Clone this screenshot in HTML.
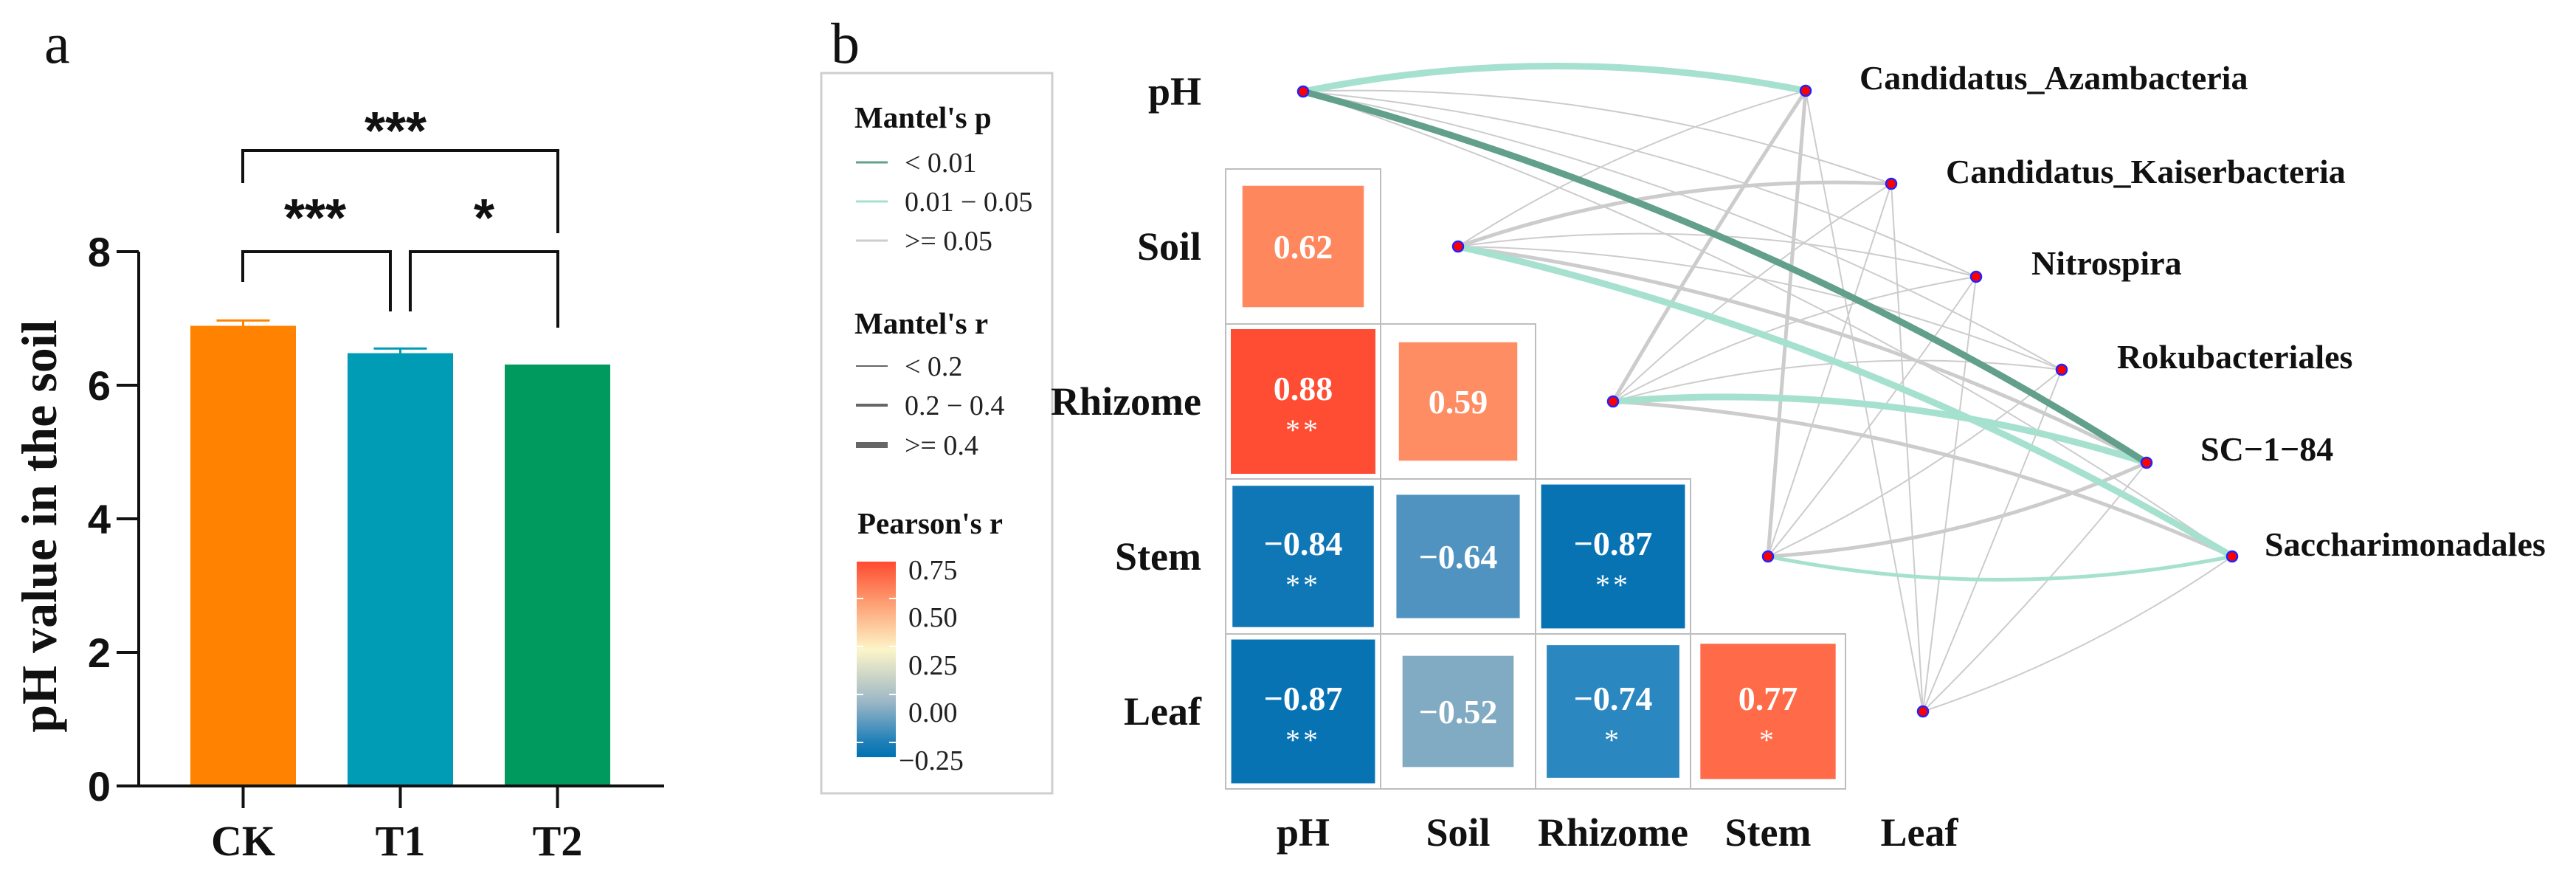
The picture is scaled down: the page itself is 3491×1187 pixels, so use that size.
<!DOCTYPE html>
<html><head><meta charset="utf-8">
<style>
html,body{margin:0;padding:0;background:#fff;}
svg{display:block;}
</style></head>
<body>
<svg id="fig" xmlns="http://www.w3.org/2000/svg" width="3491" height="1187" viewBox="0 0 3491 1187">
<rect x="0" y="0" width="3491" height="1187" fill="#fff"/>
<g id="panelA"></g>
<g id="panelB"></g>
</svg>
<script>
// ---------- Panel a data ----------
const barCats = ["CK","T1","T2"];
const barVals = [6.89, 6.48, 6.31];
const barErr = [0.08, 0.07, 0.0];
const barColors = ["#ff8200","#009bb5","#00995e"];
const yTicks = [0,2,4,6,8];

// ---------- Panel b data ----------
const envNames = ["pH","Soil","Rhizome","Stem","Leaf"];
const bacNames = ["Candidatus_Azambacteria","Candidatus_Kaiserbacteria","Nitrospira","Rokubacteriales","SC\u22121\u221284","Saccharimonadales"];
const corrRow = [1,2,2,3,3,3,4,4,4,4];
const corrCol = [0,0,1,0,1,2,0,1,2,3];
const corrVal = [0.62,0.88,0.59,-0.84,-0.64,-0.87,-0.87,-0.52,-0.74,0.77];
const corrSig = ["","**","","**","","**","**","","*","*"];
const edgeEnv = [0,0,0,0,0,0, 1,1,1,1,1,1, 2,2,2,2,2,2, 3,3,3,3,3,3, 4,4,4,4,4,4];
const edgeBac = [0,1,2,3,4,5, 0,1,2,3,4,5, 0,1,2,3,4,5, 0,1,2,3,4,5, 0,1,2,3,4,5];
const edgeP   = [1,2,2,2,0,2, 2,2,2,2,2,1, 2,2,2,2,1,2, 2,2,2,2,2,1, 2,2,2,2,2,2];
const edgeR   = [2,0,0,0,2,0, 0,1,0,0,1,2, 1,0,0,0,2,1, 1,0,0,0,1,1, 0,0,0,0,0,0];
const bacNodeX = [2447,2563,2678,2794,2909,3025];
const bacNodeY = [123,249,375,501,627,754];

const NS="http://www.w3.org/2000/svg";
function el(tag, attrs, parent, text){
  const e=document.createElementNS(NS,tag);
  for(const k in attrs) e.setAttribute(k, attrs[k]);
  if(text!==undefined) e.textContent=text;
  parent.appendChild(e);
  return e;
}
const A=document.getElementById("panelA");
const B=document.getElementById("panelB");
const serif='"Liberation Serif", serif';
const sans='"Liberation Sans", sans-serif';

// ===== Panel a =====
const x0=188, y0=1065, yTop=341, yMax=8;
const yS=v=>y0-(v/yMax)*(y0-yTop);
const barX=i=>258+i*213, barW=143;
let t=el("text",{x:60,y:85,"font-family":serif,"font-size":78,fill:"#111"},A,"a");


barCats.forEach((c,i)=>{
  const r=el("rect",{x:barX(i),y:yS(barVals[i]),width:barW,height:y0-yS(barVals[i]),fill:barColors[i]},A);
  
  
  if(barErr[i]>0){
    const cx=barX(i)+barW/2, ye=yS(barVals[i]+barErr[i]);
    const g=el("g",{stroke:barColors[i],"stroke-width":3},A);
    
    
    el("line",{x1:cx,y1:yS(barVals[i]),x2:cx,y2:ye},g);
    el("line",{x1:cx-36,y1:ye,x2:cx+36,y2:ye},g);
  }
  const cx=barX(i)+barW/2;
  el("line",{x1:cx,y1:y0,x2:cx,y2:1095,stroke:"#111","stroke-width":4},A);
  const lab=el("text",{x:cx,y:1159,"font-family":serif,"font-size":58,"font-weight":"bold","text-anchor":"middle",fill:"#111"},A,c);
  
  
});
const ax=el("g",{stroke:"#111","stroke-width":4,fill:"none"},A);


el("line",{x1:x0,y1:yTop,x2:x0,y2:y0+2},ax);
el("line",{x1:x0-2,y1:y0,x2:900,y2:y0},ax);
yTicks.forEach(v=>{
  el("line",{x1:x0-30,y1:yS(v),x2:x0,y2:yS(v),stroke:"#111","stroke-width":4},A);
  const tl=el("text",{x:x0-38,y:yS(v)+20,"font-family":sans,"font-size":56,"font-weight":"bold","text-anchor":"end",fill:"#111"},A,String(v));
  
  
});
t=el("text",{x:0,y:0,transform:"translate(76,713) rotate(-90)","font-family":serif,"font-size":68,"font-weight":"bold","text-anchor":"middle",fill:"#111"},A,"pH value in the soil");


const br=el("g",{stroke:"#111","stroke-width":4,fill:"none"},A);


el("polyline",{points:"329,248 329,204 756,204 756,316"},br);
el("polyline",{points:"329,382 329,341 529,341 529,422"},br);
el("polyline",{points:"556,422 556,341 756,341 756,444"},br);
[[536,202,"***"],[427,320,"***"],[656,320,"*"]].forEach(s=>{
  const st=el("text",{x:s[0],y:s[1],"font-family":sans,"font-size":72,"font-weight":"bold","text-anchor":"middle",fill:"#111"},A,s[2]);
  
  
});

// ===== Panel b =====
t=el("text",{x:1126,y:85,"font-family":serif,"font-size":78,fill:"#111"},B,"b");


const L=el("g",{},B);


el("rect",{x:1113,y:99,width:313,height:976,fill:"#fff",stroke:"#cfcfcf","stroke-width":3},L);
const pCol=["#62a08c","#a6e1cf","#cccccc"];
const rW=[2,5,9];
el("text",{x:1158,y:173,"font-family":serif,"font-size":41,"font-weight":"bold",fill:"#111"},L,"Mantel's p");
["< 0.01","0.01 \u2212 0.05",">= 0.05"].forEach((s,i)=>{
  const y=[220,273,326][i];
  el("line",{x1:1160,y1:y,x2:1203,y2:y,stroke:pCol[i],"stroke-width":3},L);
  el("text",{x:1226,y:y+13,"font-family":serif,"font-size":38,fill:"#222"},L,s);
});
el("text",{x:1158,y:452,"font-family":serif,"font-size":41,"font-weight":"bold",fill:"#111"},L,"Mantel's r");
["< 0.2","0.2 \u2212 0.4",">= 0.4"].forEach((s,i)=>{
  const y=[496,549,603][i];
  el("line",{x1:1160,y1:y,x2:1203,y2:y,stroke:"#666","stroke-width":[2,4,8][i]},L);
  el("text",{x:1226,y:y+13,"font-family":serif,"font-size":38,fill:"#222"},L,s);
});
el("text",{x:1162,y:723,"font-family":serif,"font-size":41,"font-weight":"bold",fill:"#111"},L,"Pearson's r");
const defs=el("defs",{},B);
const lg=el("linearGradient",{id:"cbar",x1:0,y1:0,x2:0,y2:1},defs);
[["0","#ff4a30"],["0.2","#fd9a6e"],["0.45","#fdf5c8"],["0.72","#9ab6c6"],["0.92","#1f80b8"],["1","#0072b2"]].forEach(s=>el("stop",{offset:s[0],"stop-color":s[1]},lg));
el("rect",{x:1161,y:761,width:53,height:265,fill:"url(#cbar)"},L);
["0.75","0.50","0.25","0.00","\u22120.25"].forEach((s,i)=>{
  const y=[772,836,901,965,1030][i];
  el("text",{x:s.length>4?1218:1231,y:y+13,"font-family":serif,"font-size":38,fill:"#222"},L,s);
  if(i<4){const ty=811+i*65;
  el("line",{x1:1161,y1:ty,x2:1170,y2:ty,stroke:"#fff","stroke-width":2},L);
  el("line",{x1:1205,y1:ty,x2:1214,y2:ty,stroke:"#fff","stroke-width":2},L);}
});

const gx0=1661, gy0=229, cs=210;
const colX=j=>gx0+j*cs, rowY=i=>gy0+(i-1)*cs;
function corrColor(v){
  const stops=[[-0.9,[0,110,176]],[-0.74,[42,135,191]],[-0.6,[95,152,192]],[-0.5,[138,174,196]],[0,[240,240,225]],[0.5,[253,160,122]],[0.62,[255,135,93]],[0.77,[255,106,72]],[0.9,[255,72,48]]];
  if(v<=stops[0][0]) return "rgb("+stops[0][1]+")";
  for(let k=1;k<stops.length;k++){
    if(v<=stops[k][0]){const a=stops[k-1],b=stops[k];const f=(v-a[0])/(b[0]-a[0]);
      return "rgb("+a[1].map((c,q)=>Math.round(c+(b[1][q]-c)*f)).join(",")+")";}
  }
  return "rgb("+stops[stops.length-1][1]+")";
}
const M=el("g",{},B);


for(let k=0;k<corrVal.length;k++){
  const r=corrRow[k], c=corrCol[k];
  const cellBg=el("rect",{x:colX(c),y:rowY(r),width:cs,height:cs,fill:"#fff",stroke:"#bdbdbd","stroke-width":2},M);
  
  
}
for(let k=0;k<corrVal.length;k++){
  const r=corrRow[k], c=corrCol[k], v=corrVal[k];
  const sz=cs*Math.sqrt(Math.abs(v))*0.995;
  const cx=colX(c)+cs/2, cy=rowY(r)+cs/2;
  const sq=el("rect",{x:cx-sz/2,y:cy-sz/2,width:sz,height:sz,fill:corrColor(v)},M);
  
  
  const txt=(v<0?"\u2212":"")+Math.abs(v).toFixed(2);
  const hasS=corrSig[k]!=="";
  const vl=el("text",{x:cx,y:cy+(hasS?-2:16),"font-family":serif,"font-size":46,"font-weight":"bold","text-anchor":"middle",fill:"#fff"},M,txt);
  
  
  if(hasS){
    const sl=el("text",{x:cx,y:cy+52,"font-family":serif,"font-size":40,"text-anchor":"middle",fill:"#fff","letter-spacing":"4"},M,corrSig[k]);
    
    
  }
}
envNames.forEach((n,i)=>{
  const rl=el("text",{x:1628,y:gy0+(i-1)*cs+cs/2+18,"font-family":serif,"font-size":54,"font-weight":"bold","text-anchor":"end",fill:"#111"},B,n);
  
  
  const cl=el("text",{x:colX(i)+cs/2+(i===4?-5:0),y:1146,"font-family":serif,"font-size":54,"font-weight":"bold","text-anchor":"middle",fill:"#111"},B,n);
  
  
});
const envNodeX=i=>colX(i)+cs/2, envNodeY=i=>rowY(i)+cs/2;
const E=el("g",{fill:"none","stroke-linecap":"round"},B);


const order=[...edgeEnv.keys()].sort((a,b)=>(edgeP[b]-edgeP[a])||(edgeR[a]-edgeR[b]));
order.forEach(k=>{
  const e=edgeEnv[k], b=edgeBac[k];
  const x1=envNodeX(e), y1=envNodeY(e), x2=bacNodeX[b], y2=bacNodeY[b];
  const dx=x2-x1, dy=y2-y1, len=Math.hypot(dx,dy);
  const c=(e<3?0.1:-0.1)*Math.pow(Math.abs(dx)/len,3);
  const mx=(x1+x2)/2+dy*c, my=(y1+y2)/2-dx*c;
  const p=el("path",{d:`M${x1},${y1} Q${mx},${my} ${x2},${y2}`,stroke:pCol[edgeP[k]],"stroke-width":rW[edgeR[k]]},E);
  
  
});
envNames.forEach((n,i)=>{
  const nd=el("circle",{cx:envNodeX(i),cy:envNodeY(i),r:7,fill:"#ff0000",stroke:"#2222ff","stroke-width":2.5},B);
  
  
});
const bacLabelDx=[73,74,75,75,73,44];
const bacLabelDy=[-2,-1,-3,-2,-3,-1];
bacNames.forEach((n,i)=>{
  const nd=el("circle",{cx:bacNodeX[i],cy:bacNodeY[i],r:7,fill:"#ff0000",stroke:"#2222ff","stroke-width":2.5},B);
  
  
  const bl=el("text",{x:bacNodeX[i]+bacLabelDx[i],y:bacNodeY[i]+bacLabelDy[i],"font-family":serif,"font-size":46,"font-weight":"bold",fill:"#111"},B,n);
  
  
});
</script>
</body></html>
